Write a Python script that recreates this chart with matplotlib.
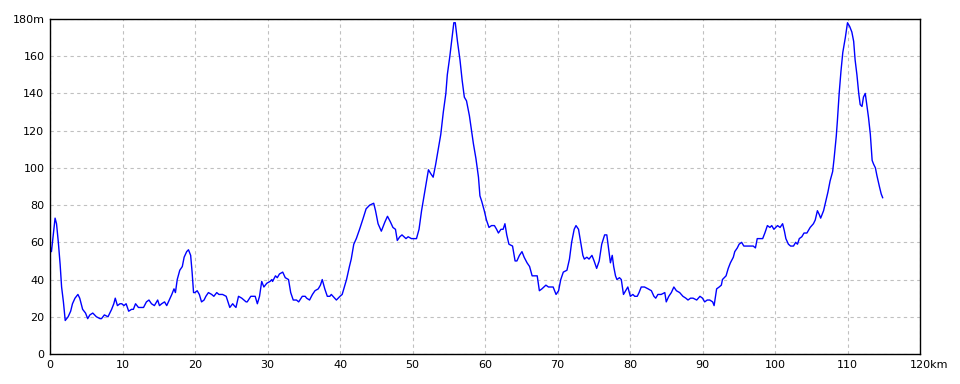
import matplotlib
matplotlib.use("Agg")
from matplotlib import pyplot as plt

# distance (km) and elevation (m)
dist = [0, 0.2, 0.45, 0.7, 0.9, 1.15, 1.4, 1.6, 1.85, 2.1, 2.5, 2.85, 3.1, 3.45, 3.85, 4.1, 4.5, 4.9, 5.2,
        5.5, 5.9, 6.4, 6.9, 7.1, 7.5, 8.0, 8.5, 8.8, 9.0, 9.3, 9.65, 9.9, 10.2, 10.5, 10.85, 11.25, 11.5,
        11.8, 12.2, 12.9, 13.3, 13.65, 14.0, 14.4, 14.85, 15.1, 15.4, 15.8, 16.1, 16.45, 16.8, 17.1, 17.3,
        17.55, 17.9, 18.25, 18.5, 18.85, 19.1, 19.4, 19.6, 19.8, 20.0, 20.3, 20.6, 20.9, 21.25, 21.5,
        21.85, 22.3, 22.6, 23.0, 23.3, 23.8, 24.3, 24.55, 24.8, 25.2, 25.4, 25.65, 26.0, 26.45, 27.05,
        27.2, 27.7, 28.3, 28.6, 28.9, 29.2, 29.5, 29.9, 30.35, 30.6, 30.7, 31.1, 31.35, 31.65, 32.1,
        32.45, 32.9, 33.2, 33.55, 34.0, 34.3, 34.8, 35.2, 35.4, 35.8, 36.2, 36.55, 37.0, 37.3, 37.55,
        37.9, 38.25, 38.6, 38.8, 39.5, 40.0, 40.3, 40.9, 41.3, 41.55, 41.9, 42.25, 42.7, 43.2, 43.6,
        44.1, 44.65, 44.9, 45.25, 45.7, 46.2, 46.55, 46.95, 47.3, 47.65, 47.9, 48.25, 48.55, 49.1, 49.4,
        49.85, 50.3, 50.55, 50.9, 51.25, 51.6, 51.9, 52.2, 52.5, 52.85, 53.2, 53.55, 53.9, 54.25, 54.6,
        54.8, 55.15, 55.4, 55.7, 55.9, 56.2, 56.55, 56.85, 57.15, 57.45, 57.85, 58.15, 58.4, 58.75,
        59.1, 59.3, 59.55, 59.9, 60.2, 60.55, 60.9, 61.3, 61.6, 61.85, 62.2, 62.5, 62.75, 63.0, 63.3,
        63.8, 64.15, 64.4, 64.75, 65.1, 65.4, 65.8, 66.15, 66.5, 66.95, 67.2, 67.5, 67.85, 68.4, 68.75,
        69.4, 69.8, 70.15, 70.45, 70.8, 71.3, 71.65, 71.95, 72.3, 72.55, 72.9, 73.2, 73.5, 73.7, 74.05,
        74.35, 74.75, 75.05, 75.4, 75.75, 76.1, 76.5, 76.8, 77.1, 77.3, 77.55, 77.75, 78.0, 78.2, 78.55,
        78.8, 79.1, 79.4, 79.7, 80.05, 80.4, 80.65, 81.0, 81.25, 81.55, 82.0, 82.5, 82.95, 83.3, 83.55,
        83.85, 84.3, 84.8, 85.0, 85.35, 85.7, 86.05, 86.4, 86.85, 87.3, 87.7, 88.0, 88.35, 88.7, 89.2,
        89.65, 90.0, 90.3, 90.65, 91.0, 91.4, 91.6, 91.95, 92.3, 92.6, 92.75, 93.25, 93.55, 93.85, 94.25,
        94.45, 94.8, 95.05, 95.4, 95.7, 96.1, 96.55, 97.0, 97.3, 97.55, 97.9, 98.3, 98.6, 98.95, 99.3,
        99.55, 99.85, 100.1, 100.35, 100.7, 101.05, 101.3, 101.5, 101.85, 102.15, 102.55, 102.85, 103.1,
        103.35, 103.7, 104.0, 104.4, 104.85, 105.3, 105.55, 105.85, 106.1, 106.3, 106.7, 107.0, 107.3,
        107.6, 107.95, 108.15, 108.45, 108.6, 108.85, 109.1, 109.35, 109.7, 110.0, 110.3, 110.6, 110.85,
        111.05, 111.3, 111.55, 111.75, 112.0, 112.2, 112.45, 112.7, 112.9, 113.15, 113.4, 113.6, 113.85,
        114.05, 114.4, 114.65, 114.85]
elev = [58, 55, 64, 73, 70, 60, 48, 36, 28, 18, 20, 23, 27, 30, 32, 30, 24, 22, 19,
        21, 22, 20, 19, 19, 21, 20, 24, 27, 30, 26, 27, 27, 26, 27, 23, 24, 24,
        27, 25, 25, 28, 29, 27, 26, 29, 26, 27, 28, 26, 29, 32, 35, 33,
        40, 45, 47, 52, 55, 56, 53, 44, 33, 33, 34, 32, 28, 29, 31,
        33, 32, 31, 33, 32, 32, 31, 28, 25, 27, 26, 25, 31, 30, 28,
        28, 31, 31, 27, 31, 39, 36, 38, 39, 40, 39, 42, 41, 43, 44,
        41, 40, 33, 29, 29, 28, 31, 31, 30, 29, 32, 34, 35, 37, 40,
        35, 31, 31, 32, 29, 31, 32, 40, 47, 51, 59, 62, 67, 73, 78,
        80, 81, 77, 70, 66, 71, 74, 71, 68, 67, 61, 63, 64, 62, 63,
        62, 62, 62, 67, 77, 85, 92, 99, 97, 95, 102, 110, 118, 130, 140,
        150, 160, 168, 178, 178, 168, 158, 147, 138, 136, 128, 120, 113, 105,
        95, 85, 82, 77, 72, 68, 69, 69, 67, 65, 67, 67, 70, 64, 59,
        58, 50, 50, 53, 55, 52, 49, 47, 42, 42, 42, 34, 35, 37, 36,
        36, 32, 34, 40, 44, 45, 51, 60, 67, 69, 67, 60, 53, 51, 52,
        51, 53, 50, 46, 50, 59, 64, 64, 55, 49, 53, 47, 42, 40, 41,
        40, 32, 34, 36, 31, 32, 31, 31, 33, 36, 36, 35, 34, 31, 30,
        32, 32, 33, 28, 31, 33, 36, 34, 33, 31, 30, 29, 30, 30, 29,
        31, 30, 28, 29, 29, 28, 26, 35, 36, 37, 40, 42, 46, 49, 52,
        55, 57, 59, 60, 58, 58, 58, 58, 57, 62, 62, 62, 65, 69, 68,
        69, 67, 68, 69, 68, 70, 66, 62, 59, 58, 58, 60, 59,
        62, 63, 65, 65, 68, 70, 72, 77, 75, 73, 77, 82, 87,
        93, 98, 105, 117, 125, 140, 152, 162, 170, 178, 176, 173, 168,
        158, 150, 140, 134, 133, 138, 140, 133, 127, 118, 104, 102, 100,
        96, 90, 86, 84]

xticks = [0, 10, 20, 30, 40, 50, 60, 70, 80, 90, 100, 110, 120]
xlabels = ["0", "10", "20", "30", "40", "50", "60", "70", "80", "90", "100", "110", ""]
yticks = [0, 20, 40, 60, 80, 100, 120, 140, 160, 180]
ylabels = ["0", "20", "40", "60", "80", "100", "120", "140", "160", "180m"]

fig = plt.figure(figsize=(9.6, 3.84), dpi=100)
ax = fig.add_axes([50 / 960, 30 / 384, 870 / 960, 335 / 384])
ax.plot(dist, elev, color="#0000ff", linewidth=1.0)

ax.set_xlim(0, 120)
ax.set_ylim(0, 180)
ax.set_xticks(xticks)
ax.set_xticklabels(xlabels)
ax.set_yticks(yticks)
ax.set_yticklabels(ylabels)
ax.tick_params(length=0, labelsize=8, pad=4)
# last x label: "120" centred on the tick with "km" hanging off to the right
ax.annotate("120km", xy=(120, 0), xycoords=("data", "axes fraction"),
            xytext=(-7.6, -4), textcoords="offset points",
            ha="left", va="top", fontsize=8, annotation_clip=False)
ax.grid(True, color="#c0c0c0", linestyle=(0, (3, 3)), linewidth=0.8)
for s in ax.spines.values():
    s.set_linewidth(1.0)
    s.set_color("black")

fig.savefig("out.png", dpi=100)
